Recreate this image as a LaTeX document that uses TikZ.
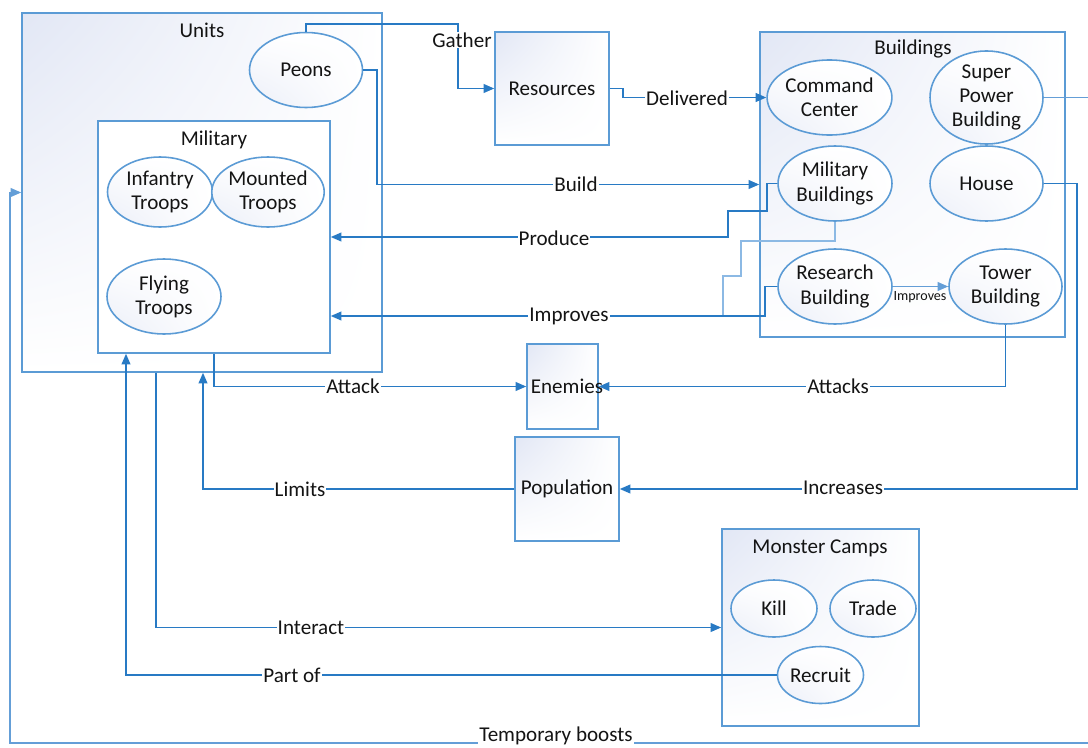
\documentclass[tikz,border=0pt]{standalone}
\usepackage{fontspec}
\setmainfont{Carlito}
\usetikzlibrary{shapes.geometric,arrows.meta,shadings}
\definecolor{bdr}{RGB}{91,155,213}
\definecolor{ln}{RGB}{40,122,196}
\definecolor{lnl}{RGB}{140,185,228}
\definecolor{lnm}{RGB}{100,158,215}
\definecolor{shd}{RGB}{226,231,245}
\definecolor{txt}{RGB}{20,20,20}
\newdimen\px \px=0.02cm
\begin{document}
\begin{tikzpicture}[x=0.02cm,y=-0.02cm, font=\fontsize{12}{13.8}\selectfont, text=txt,
 box/.style={draw=bdr, line width=0.9pt, shade, upper left=shd, upper right=white, lower left=white, lower right=white, inner sep=0},
 wbox/.style={draw=bdr, line width=0.9pt, fill=white, inner sep=0},
 oval/.style={ellipse, draw=bdr, line width=0.9pt, shade, upper left=white, upper right=white, lower left=shd!70, lower right=white, align=center, inner sep=0},
 conn/.style={draw=ln, line width=0.8pt, -{Triangle[length=6pt,width=5pt]}},
 plain/.style={draw=ln, line width=0.8pt},
 lbl/.style={fill=white, inner sep=0.6pt},
]
\useasboundingbox (0,0) rectangle (1088,747);

% containers and nodes
\node[box, minimum width=360\px, minimum height=359\px] (units) at (202,192.5) {};
\node (unitst) at (202,30) {Units};
\node[oval, minimum width=113\px, minimum height=75\px] (peons) at (306,70) {Peons};
\node[wbox, minimum width=232\px, minimum height=232\px] (mil) at (214,237) {};
\node (milt) at (214,140) {Military};
\node[oval, minimum width=105\px, minimum height=70\px] (inf) at (160,192) {Infantry\\Troops};
\node[oval, minimum width=105\px, minimum height=70\px] (mtd) at (268,192) {Mounted\\Troops};
\node[oval, minimum width=114\px, minimum height=75\px] (fly) at (164,296.5) {Flying\\Troops};

\node[box, minimum width=114\px, minimum height=113\px] (res) at (552,88.5) {};
\node (rest) at (552,89) {Resources};

\node[box, minimum width=305\px, minimum height=305\px] (bld) at (912.5,184.5) {};
\node (bldt) at (913,49) {Buildings};
\node[oval, minimum width=113\px, minimum height=75\px] (cc) at (829.5,97.5) {Command\\Center};
\node[oval, minimum width=113\px, minimum height=75\px] (spb) at (986.5,97.5) {Super\\Power\\Building};
\node[oval, minimum width=114\px, minimum height=75\px] (milb) at (835,183.5) {Military\\Buildings};
\node[oval, minimum width=113\px, minimum height=75\px] (house) at (986.5,183.5) {House};
\node[oval, minimum width=114\px, minimum height=75\px] (rb) at (835,286.5) {Research\\Building};
\node[oval, minimum width=113\px, minimum height=75\px] (tb) at (1005.5,286.5) {Tower\\Building};

\node[box, minimum width=71\px, minimum height=85\px] (en) at (562.5,386.5) {};
\node (ent) at (567,386) {Enemies};
\node[box, minimum width=104\px, minimum height=104\px] (pop) at (567,489) {};
\node (popt) at (567,489) {Population};

\node[box, minimum width=197\px, minimum height=197\px] (mc) at (820.5,627.5) {};
\node (mct) at (820,548) {Monster Camps};
\node[oval, minimum width=86\px, minimum height=57\px] (kill) at (774,608.5) {Kill};
\node[oval, minimum width=86\px, minimum height=57\px] (trade) at (873,608.5) {Trade};

% connectors
\draw[conn] (peons.north) |- (458,24) |- (res.west);
\draw[conn] (res.east) -| (623,97.5) -- (cc.west);
\draw[conn] (peons.east) -| (377,184.5) -- (bld.west);
\draw[conn] (milb.west) -| (767,211) -| (728,237) -- (mil.east);
\draw[plain, draw=lnl] (milb.south) |- (741,241) |- (723,276) -- (723,316) -- (652,316);
\draw[conn] (rb.west) -| (765,316) -- (mil.east |- 0,316);
\draw[conn, draw=lnm] (rb.east) -- (tb.west);
\draw[conn, draw=lnm] (spb.east) -- (1100,97.5) -- (1100,743) -- (10,743) -- (10,192.5) -- (units.west);
\draw[conn] (mil.south) |- (en.west);
\draw[conn] (tb.south) |- (en.east);
\draw[conn] (house.east) -| (1077,489) -- (pop.east);
\draw[conn] (pop.west) -| (units.south -| 203,0);
\draw[conn] (units.south -| 156,0) |- (mc.west);

\node[oval, minimum width=85\px, minimum height=57\px] (recruit) at (820.5,675) {Recruit};
\draw[conn] (recruit.west) -| (mil.south -| 126,0);

% labels
\node[lbl] (lgather) at (462,40) {Gather};
\node[lbl] (ldeliv) at (687,98) {Delivered};
\node[lbl] (lbuild) at (576,184) {Build};
\node[lbl] (lprod) at (554,238) {Produce};
\node[lbl] (limpr) at (569,316) {Improves};
\node[inner sep=0.5pt, font=\fontsize{8}{9}\selectfont] (limpr2) at (920,297) {Improves};
\node[lbl] (lattack) at (353,386) {Attack};
\node[lbl] (lattacks) at (838,386) {Attacks};
\node[lbl] (lincr) at (843,488) {Increases};
\node[lbl] (llimits) at (300,489) {Limits};
\node[lbl] (linter) at (311,628) {Interact};
\node[lbl] (lpart) at (292,675) {Part of};
\node[lbl] (ltemp) at (556,736) {Temporary boosts};
\end{tikzpicture}
\end{document}
